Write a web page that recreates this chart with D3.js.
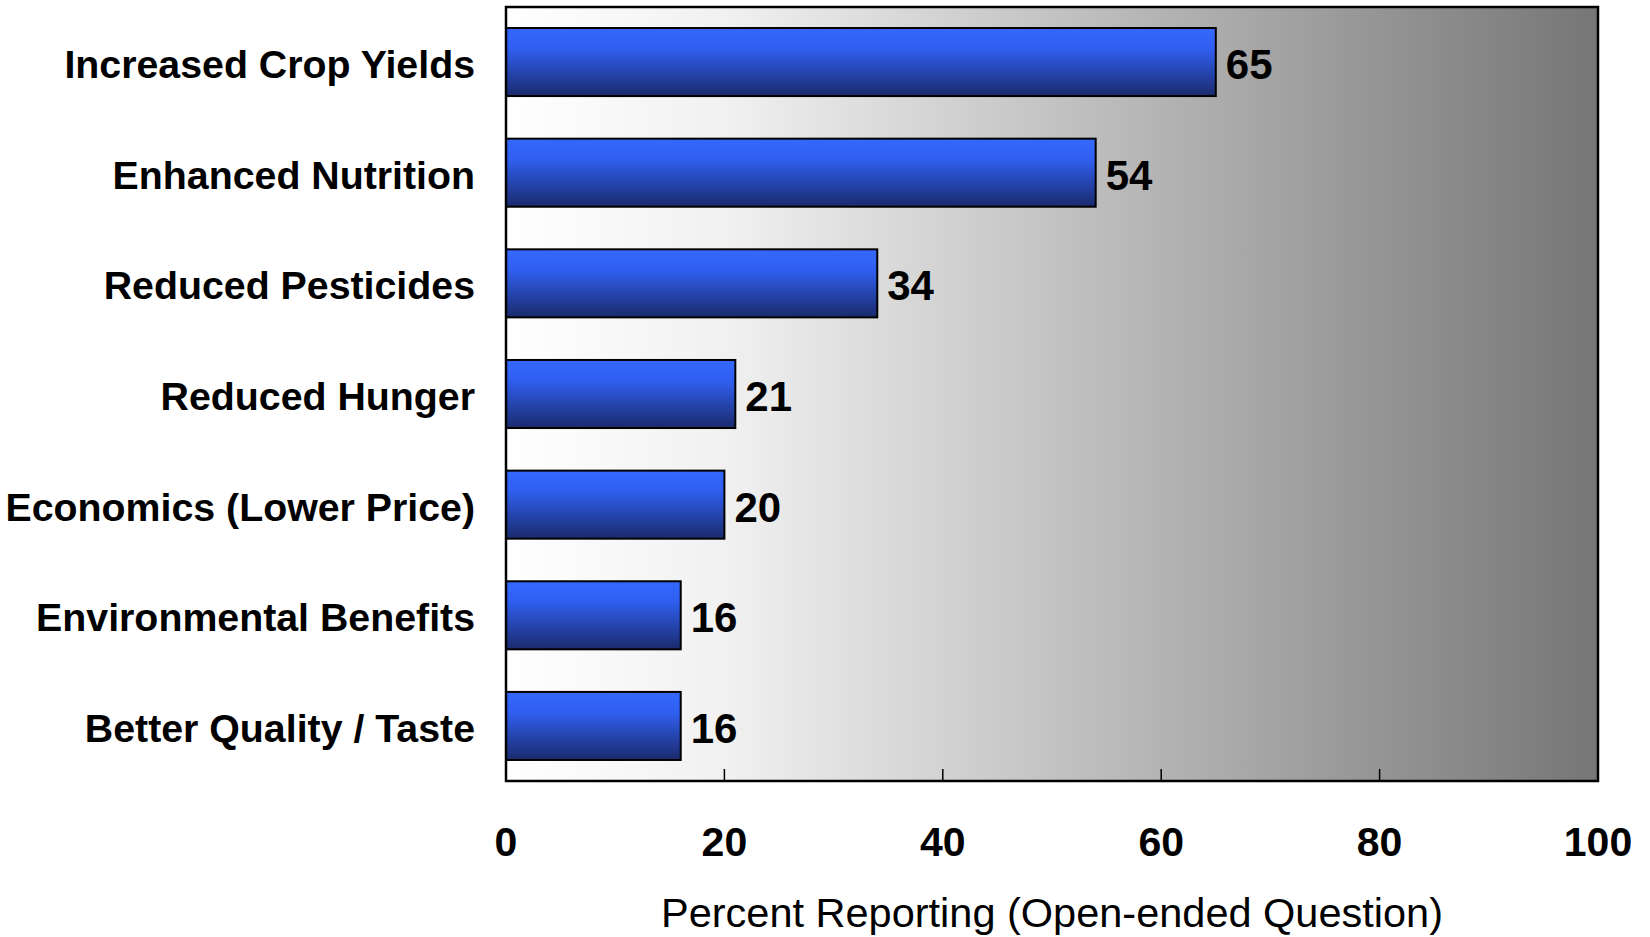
<!DOCTYPE html>
<html>
<head>
<meta charset="utf-8">
<style>
  body { margin: 0; background: #fff; }
  svg text { font-family: "Liberation Sans", Arial, Helvetica, sans-serif; fill: #000; }
  .cat { font-size: 39.3px; font-weight: bold; }
  .val { font-size: 42px; font-weight: bold; }
  .tick-label { font-size: 41px; font-weight: bold; }
  .axis-title { font-size: 41.5px; }
</style>
<script src="https://d3js.org/d3.v7.min.js"></script>
</head>
<body>
<script>
// chart data
var categories = ["Increased Crop Yields", "Enhanced Nutrition", "Reduced Pesticides",
                  "Reduced Hunger", "Economics (Lower Price)", "Environmental Benefits",
                  "Better Quality / Taste"];
var values = [65, 54, 34, 21, 20, 16, 16];
var xTicks = [0, 20, 40, 60, 80, 100];
var xTitle = "Percent Reporting (Open-ended Question)";

var W = 1650, H = 937;
var margin = {top: 7, right: 52, bottom: 156, left: 506};
var width = W - margin.left - margin.right,
    height = H - margin.top - margin.bottom;

var svg = d3.select("body").append("svg")
    .attr("width", W)
    .attr("height", H);

var defs = svg.append("defs");

var bg = defs.append("linearGradient").attr("id", "bg")
    .attr("x1", 0).attr("y1", 0).attr("x2", 1).attr("y2", 0);
bg.append("stop").attr("offset", "0%").attr("stop-color", "#ffffff");
bg.append("stop").attr("offset", "20%").attr("stop-color", "#f1f1f1");
bg.append("stop").attr("offset", "100%").attr("stop-color", "#767676");

var barGrad = defs.append("linearGradient").attr("id", "bar")
    .attr("x1", 0).attr("y1", 0).attr("x2", 0).attr("y2", 1);
barGrad.append("stop").attr("offset", "0%").attr("stop-color", "#3468ff");
barGrad.append("stop").attr("offset", "30%").attr("stop-color", "#305ff0");
barGrad.append("stop").attr("offset", "100%").attr("stop-color", "#1a2a6c");

var g = svg.append("g")
    .attr("transform", "translate(" + margin.left + "," + margin.top + ")");

var x = d3.scaleLinear().domain([0, 100]).range([0, width]);
var y = d3.scaleBand().domain(categories).range([0, height]).paddingInner(0.385).paddingOuter(0.19);

// plot background
g.append("rect")
    .attr("width", width)
    .attr("height", height)
    .attr("fill", "url(#bg)");

// inward ticks on the bottom edge
g.selectAll(".tick-mark")
    .data(xTicks.slice(1, -1))
  .enter().append("line")
    .attr("x1", function(d) { return x(d); })
    .attr("x2", function(d) { return x(d); })
    .attr("y1", height)
    .attr("y2", height - 12)
    .attr("stroke", "#000")
    .attr("stroke-width", 1.5);

// bars
g.selectAll(".bar")
    .data(values)
  .enter().append("rect")
    .attr("x", x(0))
    .attr("y", function(d, i) { return y(categories[i]); })
    .attr("width", function(d) { return x(d) - x(0); })
    .attr("height", y.bandwidth())
    .attr("fill", "url(#bar)")
    .attr("stroke", "#000")
    .attr("stroke-width", 2);

// value labels
g.selectAll(".val")
    .data(values)
  .enter().append("text")
    .attr("class", "val")
    .attr("x", function(d) { return x(d) + 10; })
    .attr("y", function(d, i) { return y(categories[i]) + y.bandwidth() / 2 + 17; })
    .text(function(d) { return d; });

// category labels
g.selectAll(".cat")
    .data(categories)
  .enter().append("text")
    .attr("class", "cat")
    .attr("x", -31)
    .attr("y", function(d) { return y(d) + y.bandwidth() / 2 + 16; })
    .attr("text-anchor", "end")
    .text(function(d) { return d; });

// frame
g.append("rect")
    .attr("width", width)
    .attr("height", height)
    .attr("fill", "none")
    .attr("stroke", "#000")
    .attr("stroke-width", 2.5);

// x tick labels
g.selectAll(".tick-label")
    .data(xTicks)
  .enter().append("text")
    .attr("class", "tick-label")
    .attr("x", function(d) { return x(d); })
    .attr("y", height + 75)
    .attr("text-anchor", "middle")
    .text(function(d) { return d; });

g.append("text")
    .attr("class", "axis-title")
    .attr("x", width / 2)
    .attr("y", height + 146)
    .attr("text-anchor", "middle")
    .text(xTitle);
</script>
</body>
</html>
